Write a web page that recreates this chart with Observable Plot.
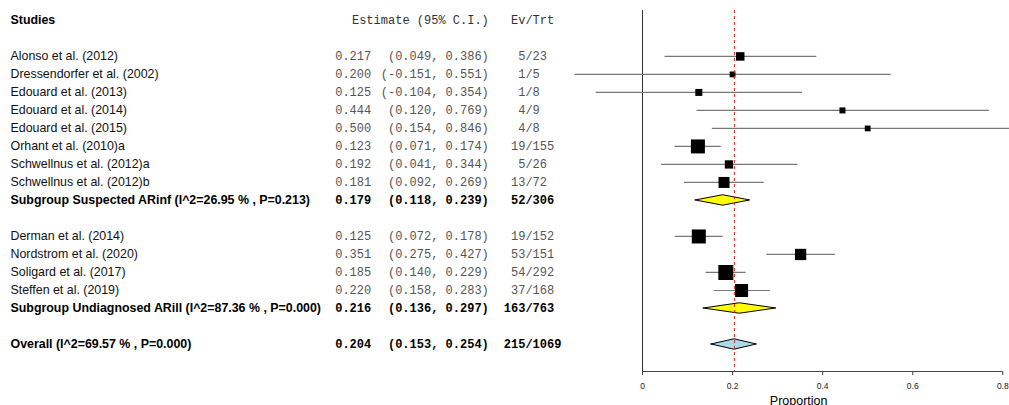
<!DOCTYPE html>
<html><head><meta charset="utf-8">
<script src="https://cdn.jsdelivr.net/npm/d3@7"></script>
<script src="https://cdn.jsdelivr.net/npm/@observablehq/plot@0.6"></script>
<style>html,body{margin:0;padding:0;background:#fff;}</style>
</head><body><div id="chart"></div>
<script>
// ---- data ----
const studyNames = ["Alonso et al. (2012)", "Dressendorfer et al. (2002)", "Edouard et al. (2013)", "Edouard et al. (2014)", "Edouard et al. (2015)", "Orhant et al. (2010)a", "Schwellnus et al. (2012)a", "Schwellnus et al. (2012)b", "Derman et al. (2014)", "Nordstrom et al. (2020)", "Soligard et al. (2017)", "Steffen et al. (2019)"];
const studyGroup = [0,0,0,0,0,0,0,0,1,1,1,1];
const studyEst = [0.217,0.200,0.125,0.444,0.500,0.123,0.192,0.181,0.125,0.351,0.185,0.220];
const studyLo = [0.049,-0.151,-0.104,0.120,0.154,0.071,0.041,0.092,0.072,0.275,0.140,0.158];
const studyHi = [0.386,0.551,0.354,0.769,0.846,0.174,0.344,0.269,0.178,0.427,0.229,0.283];
const studyEvents = [5,1,1,4,4,19,5,13,19,53,54,37];
const studyTotals = [23,5,8,9,8,155,26,72,152,151,292,168];
const studyWeights = [8.5,5.8,7,6,5.8,14,8.3,11,14,11.3,15,13];

const subgroupLabels = ["Subgroup Suspected ARinf (I^2=26.95 % , P=0.213)", "Subgroup Undiagnosed ARill (I^2=87.36 % , P=0.000)"];
const subgroupEst = [0.179, 0.216];
const subgroupLo = [0.118, 0.136];
const subgroupHi = [0.239, 0.297];
const subgroupEvents = [52, 163];
const subgroupTotals = [306, 763];

const overallLabel = "Overall (I^2=69.57 % , P=0.000)";
const overallEst = 0.204, overallLo = 0.153, overallHi = 0.254;
const overallEvents = 215, overallTotals = 1069;

const headerLabels = ["Studies", "Estimate (95% C.I.)", "Ev/Trt"];
const xTicks = [0, 0.2, 0.4, 0.6, 0.8];
const xLabel = "Proportion";

// ---- layout ----
const W = 1009, H = 405;
const ML = 642, MR = 6.7, MT = 10, MB = 34;
const nameX = 10, estX = 334.7, ciRightX = 488.3, evX = 503.3;
const diamondHalf = 0.29;
const nameSize = 12.4, monoSize = 12;

const fmt = v => v.toFixed(3);
const padEv = s => "\u00a0".repeat(Math.max(0, Math.floor((8 - s.length) / 2))) + s;
const evText = (e, t) => padEv(`${e}/${t}`);

let row = 2;
const studyRows = [], summaryRows = [];
subgroupLabels.forEach((lab, g) => {
  studyNames.forEach((n, i) => {
    if (studyGroup[i] === g) studyRows.push({label: n, est: studyEst[i], lo: studyLo[i], hi: studyHi[i], weight: studyWeights[i],
      estText: fmt(studyEst[i]), ciText: `(${fmt(studyLo[i])}, ${fmt(studyHi[i])})`, evText: evText(studyEvents[i], studyTotals[i]), row: row++});
  });
  summaryRows.push({label: lab, est: subgroupEst[g], lo: subgroupLo[g], hi: subgroupHi[g], fill: "#ffff00",
    estText: fmt(subgroupEst[g]), ciText: `(${fmt(subgroupLo[g])}, ${fmt(subgroupHi[g])})`, evText: evText(subgroupEvents[g], subgroupTotals[g]), row: row++});
  row++;
});
summaryRows.push({label: overallLabel, est: overallEst, lo: overallLo, hi: overallHi, fill: "#add8e6",
  estText: fmt(overallEst), ciText: `(${fmt(overallLo)}, ${fmt(overallHi)})`, evText: evText(overallEvents, overallTotals), row: row++});
const yDomain = [-0.55, row + 0.5];

const header = [{label: headerLabels[0], ciText: headerLabels[1], evText: padEv(headerLabels[2]), row: 0}];

const diamondPts = summaryRows.flatMap((d, k) => [
  {id: k, x: d.lo, y1: d.row, y2: d.row, fill: d.fill},
  {id: k, x: d.est, y1: d.row - diamondHalf, y2: d.row + diamondHalf, fill: d.fill},
  {id: k, x: d.hi, y1: d.row, y2: d.row, fill: d.fill}
]);

const sans = "Liberation Sans, Arial, sans-serif";
const mono = "Liberation Mono, Courier New, monospace";

const chart = Plot.plot({
  width: W, height: H,
  marginLeft: ML, marginRight: MR, marginTop: MT, marginBottom: MB,
  style: {fontFamily: sans, fontSize: "12px", background: "#fff"},
  x: {domain: [0, 0.8]},
  y: {domain: yDomain, reverse: true, axis: null},
  color: {type: "identity"},
  r: {type: "linear", domain: [0, 15], range: [0, 15 / Math.sqrt(Math.PI)]},
  marks: [
    Plot.ruleX([0], {stroke: "#333", strokeWidth: 1}),
    Plot.ruleY([yDomain[1]], {stroke: "#444", strokeWidth: 1}),
    Plot.axisX(xTicks, {tickSize: 4, tickPadding: 7, fontSize: 8.5, tickFormat: d => String(d), label: null, stroke: "#444", fill: "#222"}),
    Plot.link(studyRows, {x1: "lo", x2: "hi", y1: "row", y2: "row", stroke: "#777", strokeWidth: 1.2}),
    Plot.dot(studyRows, {x: "est", y: "row", r: "weight", symbol: "square", fill: "#000"}),
    Plot.areaY(diamondPts, {x: "x", y1: "y1", y2: "y2", z: "id", fill: "fill", stroke: "#000", strokeWidth: 1}),
    Plot.ruleX([overallEst], {stroke: "#e02020", strokeWidth: 1, strokeDasharray: "3,3"}),
    // text columns
    Plot.text(header, {y: "row", text: "label", frameAnchor: "left", textAnchor: "start", dx: nameX - ML, fontWeight: "bold", fill: "#000", fontSize: nameSize, fontFamily: sans}),
    Plot.text(header, {y: "row", text: "ciText", frameAnchor: "left", textAnchor: "end", dx: ciRightX - ML, fill: "#333", fontSize: monoSize, fontFamily: mono}),
    Plot.text(header, {y: "row", text: "evText", frameAnchor: "left", textAnchor: "start", dx: evX - ML, fill: "#333", fontSize: monoSize, fontFamily: mono}),
    Plot.text(studyRows, {y: "row", text: "label", frameAnchor: "left", textAnchor: "start", dx: nameX - ML, fill: "#111", fontSize: nameSize, fontFamily: sans}),
    Plot.text(studyRows, {y: "row", text: "estText", frameAnchor: "left", textAnchor: "start", dx: estX - ML, fill: "#555", fontSize: monoSize, fontFamily: mono}),
    Plot.text(studyRows, {y: "row", text: "ciText", frameAnchor: "left", textAnchor: "end", dx: ciRightX - ML, fill: "#555", fontSize: monoSize, fontFamily: mono}),
    Plot.text(studyRows, {y: "row", text: "evText", frameAnchor: "left", textAnchor: "start", dx: evX - ML, fill: "#555", fontSize: monoSize, fontFamily: mono}),
    Plot.text(summaryRows, {y: "row", text: "label", frameAnchor: "left", textAnchor: "start", dx: nameX - ML, fontWeight: "bold", fill: "#000", fontSize: nameSize, fontFamily: sans}),
    Plot.text(summaryRows, {y: "row", text: "estText", frameAnchor: "left", textAnchor: "start", dx: estX - ML, fontWeight: "bold", fill: "#000", fontSize: monoSize, fontFamily: mono}),
    Plot.text(summaryRows, {y: "row", text: "ciText", frameAnchor: "left", textAnchor: "end", dx: ciRightX - ML, fontWeight: "bold", fill: "#000", fontSize: monoSize, fontFamily: mono}),
    Plot.text(summaryRows, {y: "row", text: "evText", frameAnchor: "left", textAnchor: "start", dx: evX - ML, fontWeight: "bold", fill: "#000", fontSize: monoSize, fontFamily: mono}),
    Plot.text([xLabel], {frameAnchor: "bottom", lineAnchor: "bottom", dx: -24, dy: 33, fill: "#000", fontSize: 12.5, fontFamily: sans})
  ]
});
document.getElementById("chart").appendChild(chart);
</script>
</body></html>
